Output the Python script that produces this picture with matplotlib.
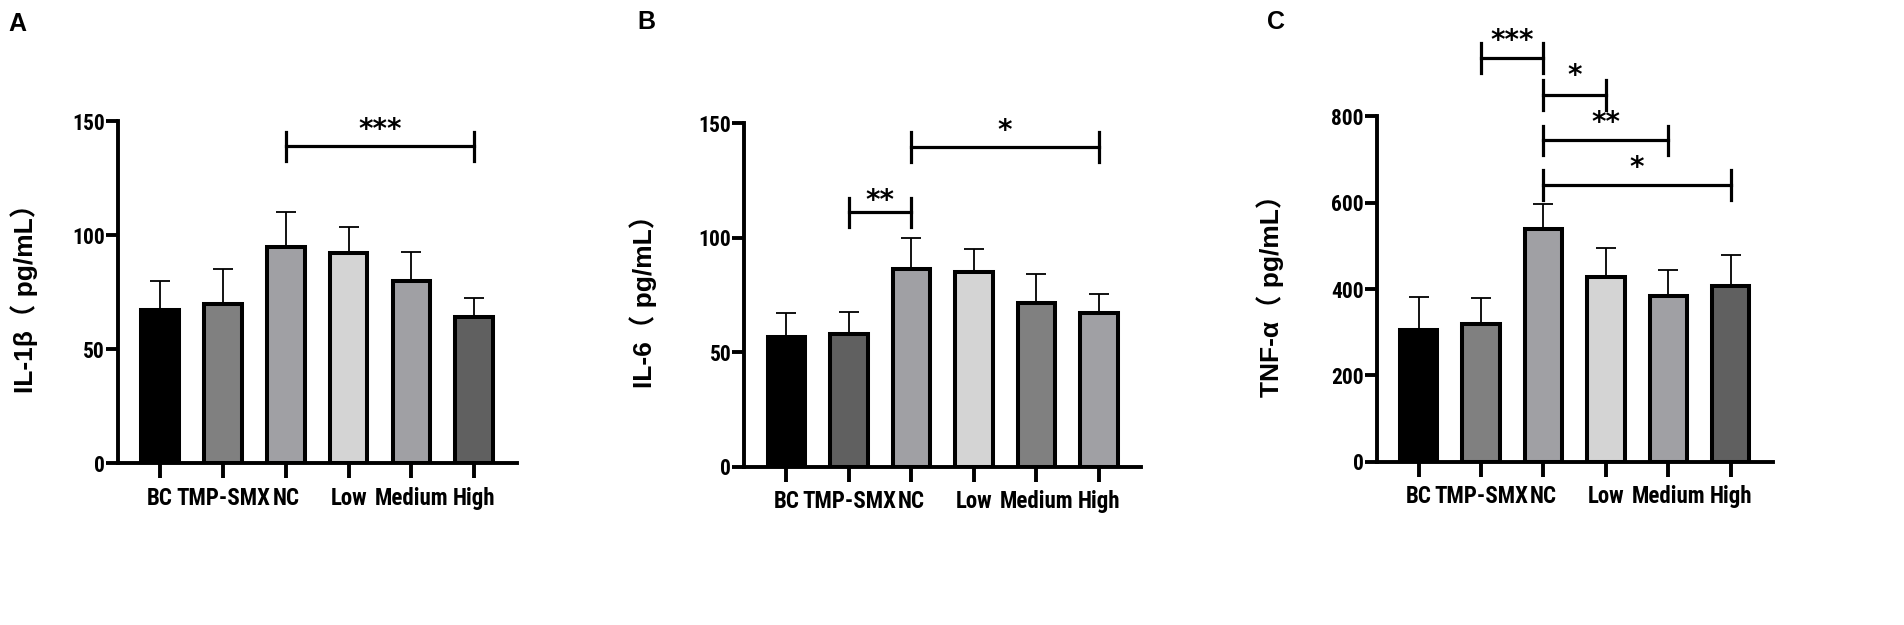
import matplotlib
matplotlib.use("Agg")
import matplotlib.pyplot as plt

plt.rcParams['font.family'] = ['Roboto Condensed', 'Liberation Sans', 'Noto Sans CJK SC', 'DejaVu Sans']
plt.rcParams['font.weight'] = 'bold'

# --- data ---
groups = ["BC", "TMP-SMX", "NC", "Low", "Medium", "High"]

il1b_mean = [67, 70, 95, 92, 80, 64]
il1b_sd = [13, 15, 15, 11.5, 12.5, 8.5]

il6_mean = [56.5, 58, 86.5, 85, 71.5, 67]
il6_sd = [10.5, 9.5, 13.5, 10, 12.5, 8.5]

tnf_mean = [305, 318, 540, 428, 384, 407]
tnf_sd = [76, 62, 57, 68, 61, 72]

# significance brackets: (from, to, height, label, label height)
il1b_sig = [(2, 5, 139, "***", 148.5)]
il6_sig = [(1, 2, 111, "**", 118.5), (2, 5, 139.6, "*", 149)]
tnf_sig = [(1, 2, 935, "***", 986), (2, 3, 849, "*", 905),
           (2, 4, 744, "**", 797), (2, 5, 641, "*", 694)]

colors_a = ["#000000", "#808080", "#a0a0a4", "#d4d4d4", "#a0a0a4", "#606060"]
colors_b = ["#000000", "#606060", "#a0a0a4", "#d4d4d4", "#808080", "#a0a0a4"]
colors_c = ["#000000", "#808080", "#a0a0a4", "#d4d4d4", "#a0a0a4", "#606060"]

fig = plt.figure(figsize=(19.04, 6.25), dpi=100)

panels = [
    # rect, means, sds, colors, ymax, yticks, ylabel, sig, tick half, ylabel x, letter, letter pos
    ([0.062, 0.259, 0.2095, 0.547], il1b_mean, il1b_sd, colors_a, 150, [0, 50, 100, 150],
     "IL-1β（ pg/mL）", il1b_sig, 6.5, -0.20, "A", (0.0045, 0.962)),
    ([0.391, 0.253, 0.2085, 0.550], il6_mean, il6_sd, colors_b, 150, [0, 50, 100, 150],
     "IL-6（ pg/mL）", il6_sig, 6.5, -0.22, "B", (0.335, 0.965)),
    ([0.7232, 0.261, 0.208, 0.553], tnf_mean, tnf_sd, colors_c, 800, [0, 200, 400, 600, 800],
     "TNF-α（ pg/mL）", tnf_sig, 34, -0.235, "C", (0.6655, 0.965)),
]

x = list(range(len(groups)))

for rect, means, sds, cols, ymax, yticks, ylabel, sigs, th, ylx, letter, lpos in panels:
    ax = fig.add_axes(rect)
    ax.errorbar(x, means, yerr=[[0] * len(sds), sds], fmt="none", ecolor="black",
                elinewidth=1.3, capsize=7.5, capthick=1.3, zorder=1)
    ax.bar(x, means, width=0.6, color=cols, edgecolor="black", linewidth=2.9, zorder=2)

    ax.set_xlim(-0.67, 5.68)
    ax.set_ylim(0, ymax)
    ax.set_yticks(yticks)
    ax.set_xticks(x)
    ax.set_xticklabels(groups, fontsize=16.5, fontweight="bold")
    ax.tick_params(axis="y", labelsize=15.5, width=2.8, length=8.5, pad=1)
    ax.tick_params(axis="x", width=2.8, length=11, pad=6)
    for lab in ax.get_yticklabels():
        lab.set_fontweight("bold")

    for s in ["top", "right"]:
        ax.spines[s].set_visible(False)
    for s in ["left", "bottom"]:
        ax.spines[s].set_linewidth(2.8)

    ax.set_ylabel(ylabel, fontsize=19, fontweight="bold",
                  family=["Liberation Sans", "Noto Sans CJK SC"])
    ax.yaxis.set_label_coords(ylx, 0.5)

    for i, j, h, lab, th_y in sigs:
        ax.plot([i, j], [h, h], color="black", lw=2.3, clip_on=False)
        ax.plot([i, i], [h - th, h + th], color="black", lw=2.3, clip_on=False)
        ax.plot([j, j], [h - th, h + th], color="black", lw=2.3, clip_on=False)
        # asterisks sit high in their text box, so nudge them down a little
        ax.annotate(lab, xy=((i + j) / 2, th_y), xytext=(0, -4), textcoords="offset points",
                    ha="center", va="center", fontsize=20, fontweight="bold",
                    family=["DejaVu Sans"], annotation_clip=False)

    fig.text(lpos[0], lpos[1], letter, fontsize=18, fontweight="bold",
             family=["Liberation Sans"], ha="left", va="center")

fig.savefig("out.png", dpi=100)
